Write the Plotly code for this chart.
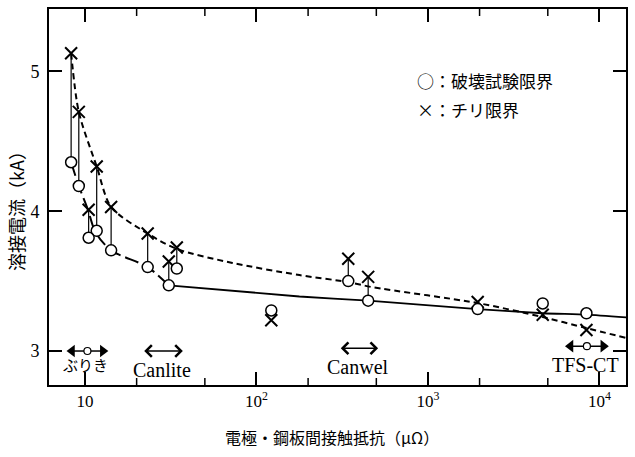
import math
import plotly.graph_objects as go

# Contact resistance between electrode and steel sheet (μΩ)
resistance = [8.3, 9.2, 11.7, 10.5, 14.2, 23.2, 30.8, 34.3, 122, 343, 448, 1950, 4670, 8400]
# Weld current at the fracture-test limit (kA)
fracture_limit = [4.35, 4.18, 3.86, 3.81, 3.72, 3.60, 3.47, 3.59, 3.29, 3.50, 3.36, 3.30, 3.34, 3.27]
# Weld current at the expulsion limit (kA)
expulsion_limit = [5.13, 4.71, 4.32, 4.01, 4.03, 3.84, 3.64, 3.74, 3.22, 3.66, 3.53, 3.35, 3.26, 3.15]

# Trend curve through the expulsion limits
exp_trend_x = [8.3, 9.2, 11.7, 14.2, 23.2, 34.3, 72.4, 178, 343, 472, 1950, 4670, 8400, 14360]
exp_trend_y = [5.13, 4.71, 4.32, 4.03, 3.84, 3.73, 3.63, 3.543, 3.493, 3.457, 3.343, 3.243, 3.164, 3.093]

# Trend curve through the fracture-test limits (dashed low-resistance part, solid beyond)
frac_dash_x = [8.3, 9.2, 10.4, 11.5, 14.2, 23.2, 30.8]
frac_dash_y = [4.35, 4.18, 4.01, 3.85, 3.72, 3.60, 3.47]
frac_solid_x = [30.8, 178, 448, 1950, 4670, 8400, 14360]
frac_solid_y = [3.47, 3.39, 3.36, 3.30, 3.27, 3.26, 3.24]

# Resistance range of each steel sheet material
materials = ["ぶりき", "Canlite", "Canwel", "TFS-CT"]
range_lo = [8.4, 21.7, 304, 6780]
range_hi = [12.7, 37.2, 512, 10540]
range_level = [3.0, 3.0, 3.02, 3.035]
label_x = [10.0, 28.1, 392, 8340]
label_y = [2.905, 2.866, 2.886, 2.90]
filled_heads = [True, False, False, True]

x_ticks = [10, 100, 1000, 10000]
x_ticktext = ["10", "10<sup>2</sup>", "10<sup>3</sup>", "10<sup>4</sup>"]
x_minor = [20, 50, 200, 500, 2000, 5000]
y_ticks = [3, 4, 5]

X_RANGE = [0.79, 4.155]
Y_RANGE = [2.757, 5.446]

fig = go.Figure()

# trend curves
fig.add_trace(go.Scatter(x=exp_trend_x, y=exp_trend_y, mode="lines",
                         line=dict(color="black", width=2, dash="6px,4px", shape="spline", smoothing=0.8),
                         hoverinfo="skip", showlegend=False))
fig.add_trace(go.Scatter(x=frac_dash_x, y=frac_dash_y, mode="lines",
                         line=dict(color="black", width=2, dash="14px,5px", shape="spline", smoothing=0.8),
                         hoverinfo="skip", showlegend=False))
fig.add_trace(go.Scatter(x=frac_solid_x, y=frac_solid_y, mode="lines",
                         line=dict(color="black", width=1.8, shape="spline", smoothing=0.6),
                         hoverinfo="skip", showlegend=False))

# vertical connectors where the expulsion limit lies above the fracture limit
cx, cy = [], []
for r, f, e in zip(resistance, fracture_limit, expulsion_limit):
    if e > f:
        cx += [r, r, None]
        cy += [e, f, None]
fig.add_trace(go.Scatter(x=cx, y=cy, mode="lines", line=dict(color="black", width=1.2),
                         hoverinfo="skip", showlegend=False))

# markers
fig.add_trace(go.Scatter(x=resistance, y=expulsion_limit, mode="markers",
                         marker=dict(symbol="x-thin", size=12, line=dict(color="black", width=2)),
                         showlegend=False))
fig.add_trace(go.Scatter(x=resistance, y=fracture_limit, mode="markers",
                         marker=dict(symbol="circle", size=11, color="white",
                                     line=dict(color="black", width=1.5)),
                         showlegend=False))

# short minor ticks at 2 and 5 of each decade, on the bottom and top frame
MINOR_LEN = (Y_RANGE[1] - Y_RANGE[0]) * 7 / 377
tick_x, tick_y = [], []
for v in x_minor:
    tick_x += [v, v, None, v, v, None]
    tick_y += [Y_RANGE[0], Y_RANGE[0] + MINOR_LEN, None, Y_RANGE[1] - MINOR_LEN, Y_RANGE[1], None]
fig.add_trace(go.Scatter(x=tick_x, y=tick_y, mode="lines", line=dict(color="black", width=1.5),
                         hoverinfo="skip", showlegend=False, cliponaxis=False))

annotations = []
for name, lo, hi, lev, lx, ly, filled in zip(materials, range_lo, range_hi, range_level,
                                             label_x, label_y, filled_heads):
    if filled:
        # solid double arrow with a small ring at its centre
        mid = math.sqrt(lo * hi)
        fig.add_trace(go.Scatter(x=[lo, hi], y=[lev, lev], mode="lines",
                                 line=dict(color="black", width=1.5),
                                 hoverinfo="skip", showlegend=False))
        fig.add_trace(go.Scatter(x=[lo, hi], y=[lev, lev], mode="markers",
                                 marker=dict(symbol=["triangle-left", "triangle-right"], size=11,
                                             color="black", line=dict(width=0)),
                                 hoverinfo="skip", showlegend=False))
        fig.add_trace(go.Scatter(x=[mid], y=[lev], mode="markers",
                                 marker=dict(symbol="circle", size=7, color="white",
                                             line=dict(color="black", width=1.2)),
                                 hoverinfo="skip", showlegend=False))
    else:
        annotations.append(dict(x=math.log10(hi), y=lev, ax=math.log10(lo), ay=lev,
                                xref="x", yref="y", axref="x", ayref="y", text="",
                                showarrow=True, arrowside="end+start", arrowhead=4,
                                startarrowhead=4, arrowsize=1.5, startarrowsize=1.5,
                                arrowwidth=1.5, arrowcolor="black", standoff=0, startstandoff=0))
    is_latin = name.isascii()
    annotations.append(dict(x=math.log10(lx), y=ly, xref="x", yref="y", text=name,
                            showarrow=False, xanchor="center", yanchor="middle",
                            font=dict(family="Liberation Serif" if is_latin else "Noto Sans CJK JP",
                                      size=20 if is_latin else 15, color="black")))

# key
annotations.append(dict(x=0.634, y=0.810, xref="paper", yref="paper", text="○：破壊試験限界",
                        showarrow=False, xanchor="left", yanchor="middle",
                        font=dict(family="Noto Sans CJK JP", size=17, color="black")))
annotations.append(dict(x=0.634, y=0.733, xref="paper", yref="paper", text="×：チリ限界",
                        showarrow=False, xanchor="left", yanchor="middle",
                        font=dict(family="Noto Sans CJK JP", size=17, color="black")))

# axis titles
annotations.append(dict(x=0.49, y=-0.138, xref="paper", yref="paper",
                        text="電極・鋼板間接触抵抗（μΩ）", showarrow=False,
                        xanchor="center", yanchor="middle",
                        font=dict(family="Noto Sans CJK JP", size=16, color="black")))
annotations.append(dict(x=-0.057, y=0.474, xref="paper", yref="paper",
                        text="溶接電流（kA）", showarrow=False, textangle=-90,
                        xanchor="center", yanchor="middle",
                        font=dict(family="Noto Sans CJK JP", size=18, color="black")))

fig.update_layout(
    width=635, height=457,
    margin=dict(l=49, r=7, t=8, b=72),
    paper_bgcolor="white", plot_bgcolor="white",
    annotations=annotations,
    xaxis=dict(type="log", range=X_RANGE, tickvals=x_ticks, ticktext=x_ticktext,
               ticks="inside", ticklen=13, tickwidth=1.5, tickcolor="black",
               showline=True, linewidth=2, linecolor="black", mirror="ticks",
               showgrid=False, zeroline=False,
               tickfont=dict(family="Liberation Serif", size=17, color="black")),
    yaxis=dict(range=Y_RANGE, tickvals=y_ticks,
               ticks="inside", ticklen=13, tickwidth=1.5, tickcolor="black",
               showline=True, linewidth=2, linecolor="black", mirror="ticks",
               showgrid=False, zeroline=False, ticklabelstandoff=4,
               tickfont=dict(family="Liberation Serif", size=18, color="black")),
)

fig.write_html("out.html")
